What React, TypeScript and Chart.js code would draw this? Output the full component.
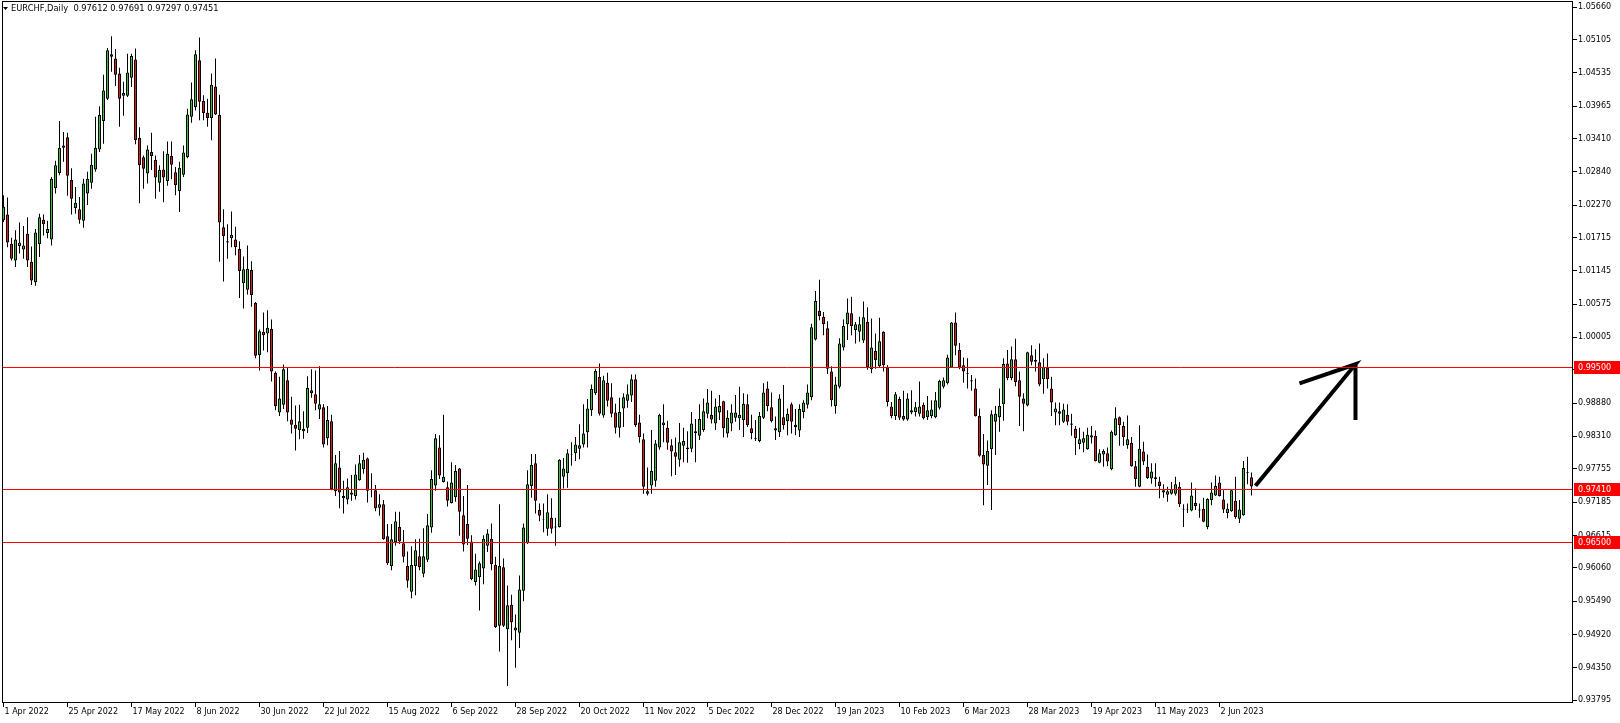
import { useEffect, useRef } from 'react';
import { Chart, registerables } from 'chart.js';

Chart.register(...registerables);

const symbolTitle = 'EURCHF,Daily  0.97612 0.97691 0.97297 0.97451';

const tickDates = [
  '1 Apr 2022', '25 Apr 2022', '17 May 2022', '8 Jun 2022', '30 Jun 2022', '22 Jul 2022',
  '15 Aug 2022', '6 Sep 2022', '28 Sep 2022', '20 Oct 2022', '11 Nov 2022', '5 Dec 2022',
  '28 Dec 2022', '19 Jan 2023', '10 Feb 2023', '6 Mar 2023', '28 Mar 2023', '19 Apr 2023',
  '11 May 2023', '2 Jun 2023',
];
const barsPerDateTick = 16;

const priceTicks = [
  1.0566, 1.05105, 1.04535, 1.03965, 1.0341, 1.0284, 1.0227, 1.01715, 1.01145, 1.00575, 1.00005,
  0.9945, 0.9888, 0.9831, 0.97755, 0.97185, 0.96615, 0.9606, 0.9549, 0.9492, 0.9435, 0.93795,
];

const levelValues = [0.995, 0.9741, 0.965];
const levelLabels = ['0.99500', '0.97410', '0.96500'];

// arrow drawn on the chart: shaft + left head stroke, and vertical head stroke (bar index, price)
const arrowShaftX = [313, 338, 324];
const arrowShaftY = [0.97466, 0.99545, 0.99219];
const arrowHeadX = [338, 338];
const arrowHeadY = [0.99545, 0.98591];

const opens = [
  1.0201, 1.0211, 1.0161, 1.0132, 1.0157, 1.0151, 1.0178, 1.0130, 1.0095, 1.0160,
  1.0202, 1.0179, 1.0168, 1.0256, 1.0282, 1.0325, 1.0343, 1.0270, 1.0222, 1.0220,
  1.0200, 1.0247, 1.0265, 1.0288, 1.0322, 1.0371, 1.0409, 1.0485, 1.0478, 1.0452,
  1.0414, 1.0414, 1.0445, 1.0476, 1.0342, 1.0309, 1.0281, 1.0318, 1.0304, 1.0265,
  1.0288, 1.0268, 1.0311, 1.0283, 1.0251, 1.0279, 1.0309, 1.0378, 1.0395, 1.0475,
  1.0405, 1.0385, 1.0376, 1.0430, 1.0381, 1.0189, 1.0165, 1.0170, 1.0168, 1.0152,
  1.0093, 1.0082, 1.0116, 1.0060, 0.9970, 1.0010, 1.0007, 1.0015, 0.9940, 0.9872,
  0.9885, 0.9927, 0.9860, 0.9851, 0.9842, 0.9840, 0.9846, 0.9910, 0.9903, 0.9877,
  0.9881, 0.9828, 0.9857, 0.9737, 0.9778, 0.9725, 0.9723, 0.9735, 0.9729, 0.9756,
  0.9775, 0.9793, 0.9740, 0.9739, 0.9709, 0.9715, 0.9660, 0.9609, 0.9650, 0.9676,
  0.9648, 0.9609, 0.9565, 0.9609, 0.9626, 0.9596, 0.9620, 0.9675, 0.9747, 0.9812,
  0.9753, 0.9744, 0.9717, 0.9727, 0.9776, 0.9696, 0.9681, 0.9651, 0.9582, 0.9590,
  0.9605, 0.9644, 0.9656, 0.9611, 0.9507, 0.9607, 0.9501, 0.9543, 0.9504, 0.9495,
  0.9567, 0.9648, 0.9746, 0.9785, 0.9705, 0.9689, 0.9673, 0.9692, 0.9677, 0.9676,
  0.9762, 0.9768, 0.9801, 0.9802, 0.9810, 0.9817, 0.9838, 0.9876, 0.9905, 0.9933,
  0.9867, 0.9923, 0.9898, 0.9872, 0.9846, 0.9879, 0.9892, 0.9901, 0.9929, 0.9855,
  0.9826, 0.9733, 0.9747, 0.9755, 0.9812, 0.9850, 0.9846, 0.9816, 0.9804, 0.9791,
  0.9815, 0.9809, 0.9810, 0.9837, 0.9832, 0.9842, 0.9870, 0.9868, 0.9853, 0.9872,
  0.9891, 0.9836, 0.9853, 0.9863, 0.9862, 0.9859, 0.9886, 0.9845, 0.9828, 0.9823,
  0.9863, 0.9913, 0.9881, 0.9845, 0.9838, 0.9864, 0.9857, 0.9886, 0.9851, 0.9841,
  0.9873, 0.9885, 0.9898, 0.9997, 1.0046, 1.0036, 1.0016, 0.9942, 0.9883, 0.9916,
  0.9983, 1.0023, 1.0042, 1.0013, 1.0010, 0.9995, 1.0027, 0.9946, 0.9977, 0.9951,
  1.0010, 0.9949, 0.9882, 0.9866, 0.9895, 0.9866, 0.9860, 0.9876, 0.9873, 0.9870,
  0.9885, 0.9864, 0.9866, 0.9864, 0.9880, 0.9916, 0.9922, 0.9949, 1.0026, 0.9979,
  0.9953, 0.9939, 0.9927, 0.9913, 0.9866, 0.9799, 0.9781, 0.9809, 0.9856, 0.9864,
  0.9886, 0.9956, 0.9931, 0.9963, 0.9927, 0.9896, 0.9884, 0.9970, 0.9962, 0.9958,
  0.9929, 0.9948, 0.9913, 0.9872, 0.9874, 0.9856, 0.9868, 0.9853, 0.9844, 0.9818,
  0.9820, 0.9809, 0.9829, 0.9832, 0.9786, 0.9800, 0.9802, 0.9775, 0.9833, 0.9864,
  0.9849, 0.9816, 0.9820, 0.9780, 0.9745, 0.9805, 0.9779, 0.9759, 0.9761, 0.9754,
  0.9735, 0.9731, 0.9733, 0.9733, 0.9745, 0.9707, 0.9707, 0.9704, 0.9717, 0.9706,
  0.9707, 0.9676, 0.9722, 0.9730, 0.9752, 0.9723, 0.9700, 0.9703, 0.9721, 0.9690,
  0.9696, 0.9770, 0.97612,
];

const highs = [
  1.0244, 1.0240, 1.0171, 1.0184, 1.0197, 1.0191, 1.0206, 1.0156, 1.0186, 1.0212,
  1.0211, 1.0200, 1.0275, 1.0303, 1.0371, 1.0352, 1.0351, 1.0290, 1.0258, 1.0241,
  1.0272, 1.0284, 1.0315, 1.0378, 1.0396, 1.0450, 1.0496, 1.0516, 1.0494, 1.0462,
  1.0438, 1.0486, 1.0486, 1.0495, 1.0360, 1.0312, 1.0329, 1.0351, 1.0312, 1.0295,
  1.0319, 1.0336, 1.0336, 1.0292, 1.0301, 1.0329, 1.0392, 1.0437, 1.0492, 1.0514,
  1.0415, 1.0409, 1.0452, 1.0478, 1.0416, 1.0220, 1.0194, 1.0216, 1.0190, 1.0165,
  1.0139, 1.0158, 1.0131, 1.0061, 1.0014, 1.0043, 1.0047, 1.0031, 0.9942, 0.9933,
  0.9954, 0.9950, 0.9899, 0.9884, 0.9885, 0.9874, 0.9934, 0.9946, 0.9944, 0.9951,
  0.9886, 0.9883, 0.9868, 0.9799, 0.9806, 0.9755, 0.9759, 0.9765, 0.9783, 0.9799,
  0.9803, 0.9795, 0.9768, 0.9748, 0.9732, 0.9722, 0.9681, 0.9681, 0.9702, 0.9702,
  0.9671, 0.9634, 0.9643, 0.9655, 0.9656, 0.9674, 0.9698, 0.9773, 0.9835, 0.9833,
  0.9868, 0.9754, 0.9787, 0.9782, 0.9777, 0.9729, 0.9748, 0.9662, 0.9630, 0.9617,
  0.9662, 0.9672, 0.9682, 0.9625, 0.9715, 0.9622, 0.9576, 0.9560, 0.9526, 0.9593,
  0.9682, 0.9773, 0.9801, 0.9801, 0.9716, 0.9716, 0.9732, 0.9725, 0.9692, 0.9792,
  0.9794, 0.9809, 0.9821, 0.9830, 0.9852, 0.9886, 0.9895, 0.9920, 0.9947, 0.9956,
  0.9935, 0.9940, 0.9922, 0.9887, 0.9897, 0.9905, 0.9920, 0.9937, 0.9937, 0.9868,
  0.9836, 0.9778, 0.9842, 0.9825, 0.9870, 0.9886, 0.9858, 0.9826, 0.9829, 0.9854,
  0.9846, 0.9840, 0.9873, 0.9861, 0.9886, 0.9896, 0.9912, 0.9909, 0.9896, 0.9902,
  0.9892, 0.9876, 0.9886, 0.9902, 0.9916, 0.9905, 0.9903, 0.9868, 0.9859, 0.9873,
  0.9922, 0.9925, 0.9906, 0.9865, 0.9903, 0.9919, 0.9879, 0.9889, 0.9878, 0.9886,
  0.9893, 0.9920, 1.0024, 1.0080, 1.0099, 1.0044, 1.0028, 0.9951, 0.9933, 0.9999,
  1.0031, 1.0067, 1.0070, 1.0027, 1.0036, 1.0062, 1.0052, 1.0033, 1.0007, 1.0034,
  1.0011, 0.9953, 0.9890, 0.9907, 0.9899, 0.9909, 0.9905, 0.9910, 0.9890, 0.9925,
  0.9889, 0.9900, 0.9893, 0.9907, 0.9928, 0.9932, 0.9971, 1.0027, 1.0043, 0.9991,
  0.9966, 0.9965, 0.9936, 0.9930, 0.9879, 0.9835, 0.9824, 0.9876, 0.9883, 0.9913,
  0.9965, 0.9979, 0.9985, 0.9998, 0.9942, 0.9905, 0.9976, 0.9987, 0.9980, 0.9990,
  0.9965, 0.9973, 0.9933, 0.9889, 0.9889, 0.9887, 0.9886, 0.9870, 0.9849, 0.9846,
  0.9839, 0.9846, 0.9849, 0.9841, 0.9809, 0.9809, 0.9812, 0.9841, 0.9881, 0.9865,
  0.9856, 0.9867, 0.9830, 0.9789, 0.9850, 0.9822, 0.9800, 0.9785, 0.9785, 0.9762,
  0.9749, 0.9745, 0.9753, 0.9762, 0.9753, 0.9715, 0.9716, 0.9752, 0.9742, 0.9716,
  0.9726, 0.9725, 0.9752, 0.9764, 0.9762, 0.9739, 0.9716, 0.9741, 0.9762, 0.9722,
  0.9789, 0.9796, 0.97691,
];

const lows = [
  1.0198, 1.0155, 1.0132, 1.0121, 1.0144, 1.0135, 1.0121, 1.0090, 1.0089, 1.0138,
  1.0175, 1.0170, 1.0158, 1.0247, 1.0278, 1.0301, 1.0243, 1.0211, 1.0212, 1.0195,
  1.0188, 1.0227, 1.0255, 1.0284, 1.0318, 1.0332, 1.0407, 1.0455, 1.0431, 1.0361,
  1.0380, 1.0412, 1.0429, 1.0331, 1.0230, 1.0255, 1.0264, 1.0287, 1.0238, 1.0250,
  1.0232, 1.0260, 1.0271, 1.0244, 1.0215, 1.0275, 1.0307, 1.0368, 1.0389, 1.0372,
  1.0372, 1.0361, 1.0338, 1.0381, 1.0130, 1.0096, 1.0135, 1.0155, 1.0141, 1.0068,
  1.0050, 1.0074, 1.0053, 0.9965, 0.9944, 0.9978, 0.9975, 0.9925, 0.9876, 0.9866,
  0.9878, 0.9857, 0.9836, 0.9807, 0.9826, 0.9827, 0.9837, 0.9897, 0.9876, 0.9861,
  0.9812, 0.9816, 0.9739, 0.9729, 0.9708, 0.9699, 0.9715, 0.9721, 0.9723, 0.9755,
  0.9767, 0.9718, 0.9727, 0.9703, 0.9695, 0.9654, 0.9611, 0.9602, 0.9644, 0.9647,
  0.9615, 0.9572, 0.9554, 0.9559, 0.9602, 0.9590, 0.9616, 0.9666, 0.9738, 0.9758,
  0.9752, 0.9711, 0.9716, 0.9719, 0.9661, 0.9634, 0.9645, 0.9585, 0.9576, 0.9533,
  0.9578, 0.9633, 0.9602, 0.9503, 0.9463, 0.9505, 0.9404, 0.9482, 0.9435, 0.9469,
  0.9549, 0.9647, 0.9726, 0.9699, 0.9686, 0.9667, 0.9661, 0.9665, 0.9644, 0.9675,
  0.9742, 0.9743, 0.9781, 0.9789, 0.9792, 0.9812, 0.9812, 0.9866, 0.9902, 0.9867,
  0.9863, 0.9882, 0.9864, 0.9836, 0.9829, 0.9847, 0.9880, 0.9890, 0.9847, 0.9820,
  0.9733, 0.9730, 0.9733, 0.9745, 0.9808, 0.9821, 0.9808, 0.9763, 0.9765, 0.9779,
  0.9787, 0.9786, 0.9804, 0.9787, 0.9825, 0.9839, 0.9862, 0.9853, 0.9842, 0.9859,
  0.9829, 0.9829, 0.9840, 0.9856, 0.9842, 0.9830, 0.9847, 0.9826, 0.9823, 0.9821,
  0.9861, 0.9874, 0.9855, 0.9825, 0.9830, 0.9843, 0.9833, 0.9836, 0.9833, 0.9830,
  0.9862, 0.9879, 0.9893, 0.9995, 1.0030, 1.0004, 0.9938, 0.9882, 0.9870, 0.9913,
  0.9978, 0.9996, 1.0004, 0.9990, 0.9993, 0.9991, 0.9945, 0.9939, 0.9947, 0.9949,
  0.9942, 0.9882, 0.9862, 0.9859, 0.9859, 0.9858, 0.9858, 0.9869, 0.9865, 0.9865,
  0.9860, 0.9859, 0.9862, 0.9862, 0.9877, 0.9913, 0.9920, 0.9948, 0.9970, 0.9946,
  0.9923, 0.9913, 0.9909, 0.9865, 0.9796, 0.9713, 0.9748, 0.9705, 0.9799, 0.9839,
  0.9858, 0.9927, 0.9927, 0.9917, 0.9849, 0.9840, 0.9882, 0.9953, 0.9942, 0.9917,
  0.9904, 0.9913, 0.9866, 0.9850, 0.9850, 0.9854, 0.9850, 0.9832, 0.9799, 0.9809,
  0.9804, 0.9808, 0.9819, 0.9788, 0.9785, 0.9779, 0.9780, 0.9773, 0.9832, 0.9815,
  0.9815, 0.9810, 0.9779, 0.9745, 0.9744, 0.9782, 0.9758, 0.9750, 0.9745, 0.9725,
  0.9726, 0.9719, 0.9731, 0.9730, 0.9710, 0.9676, 0.9700, 0.9703, 0.9705, 0.9692,
  0.9684, 0.9672, 0.9713, 0.9729, 0.9728, 0.9700, 0.9691, 0.9702, 0.9690, 0.9683,
  0.9695, 0.9749, 0.97297,
];

const closes = [
  1.0224, 1.0163, 1.0135, 1.0168, 1.0163, 1.0158, 1.0132, 1.0098, 1.0180, 1.0206,
  1.0194, 1.0186, 1.0272, 1.0295, 1.0325, 1.0329, 1.0277, 1.0238, 1.0231, 1.0202,
  1.0264, 1.0272, 1.0296, 1.0325, 1.0381, 1.0423, 1.0492, 1.0481, 1.0450, 1.0409,
  1.0419, 1.0454, 1.0482, 1.0338, 1.0295, 1.0289, 1.0322, 1.0311, 1.0274, 1.0287,
  1.0274, 1.0315, 1.0296, 1.0261, 1.0291, 1.0317, 1.0382, 1.0408, 1.0485, 1.0404,
  1.0384, 1.0376, 1.0433, 1.0382, 1.0197, 1.0174, 1.0163, 1.0176, 1.0155, 1.0114,
  1.0117, 1.0118, 1.0073, 0.9969, 1.0011, 1.0004, 1.0017, 0.9942, 0.9883, 0.9896,
  0.9946, 0.9872, 0.9851, 0.9844, 0.9857, 0.9844, 0.9914, 0.9905, 0.9887, 0.9886,
  0.9817, 0.9859, 0.9741, 0.9785, 0.9735, 0.9729, 0.9744, 0.9731, 0.9766, 0.9785,
  0.9791, 0.9738, 0.9739, 0.9708, 0.9715, 0.9655, 0.9614, 0.9655, 0.9686, 0.9651,
  0.9625, 0.9584, 0.9611, 0.9636, 0.9607, 0.9626, 0.9679, 0.9758, 0.9828, 0.9764,
  0.9762, 0.9721, 0.9752, 0.9772, 0.9702, 0.9646, 0.9656, 0.9587, 0.9603, 0.9614,
  0.9656, 0.9665, 0.9612, 0.9505, 0.9609, 0.9507, 0.9542, 0.9513, 0.9499, 0.9569,
  0.9675, 0.9749, 0.9782, 0.9721, 0.9695, 0.9688, 0.9701, 0.9673, 0.9675, 0.9791,
  0.9776, 0.9802, 0.9800, 0.9817, 0.9816, 0.9836, 0.9879, 0.9912, 0.9943, 0.9870,
  0.9927, 0.9892, 0.9870, 0.9846, 0.9873, 0.9898, 0.9903, 0.9929, 0.9850, 0.9830,
  0.9745, 0.9737, 0.9772, 0.9819, 0.9868, 0.9855, 0.9820, 0.9805, 0.9796, 0.9821,
  0.9823, 0.9812, 0.9853, 0.9840, 0.9861, 0.9874, 0.9889, 0.9860, 0.9882, 0.9883,
  0.9845, 0.9863, 0.9872, 0.9872, 0.9868, 0.9887, 0.9850, 0.9837, 0.9826, 0.9866,
  0.9906, 0.9883, 0.9857, 0.9841, 0.9896, 0.9850, 0.9870, 0.9856, 0.9847, 0.9878,
  0.9889, 0.9906, 1.0018, 1.0063, 1.0037, 1.0023, 0.9947, 0.9893, 0.9920, 0.9990,
  1.0020, 1.0043, 1.0020, 1.0023, 1.0023, 1.0035, 0.9950, 0.9983, 0.9962, 0.9994,
  0.9953, 0.9890, 0.9866, 0.9903, 0.9863, 0.9860, 0.9896, 0.9872, 0.9881, 0.9882,
  0.9862, 0.9876, 0.9877, 0.9893, 0.9926, 0.9927, 0.9966, 1.0026, 0.9986, 0.9950,
  0.9942, 0.9938, 0.9925, 0.9866, 0.9798, 0.9783, 0.9806, 0.9869, 0.9870, 0.9883,
  0.9955, 0.9931, 0.9963, 0.9924, 0.9899, 0.9887, 0.9975, 0.9959, 0.9959, 0.9920,
  0.9950, 0.9929, 0.9889, 0.9879, 0.9870, 0.9877, 0.9856, 0.9851, 0.9828, 0.9826,
  0.9828, 0.9834, 0.9833, 0.9789, 0.9802, 0.9806, 0.9788, 0.9839, 0.9862, 0.9850,
  0.9830, 0.9826, 0.9780, 0.9758, 0.9810, 0.9788, 0.9760, 0.9771, 0.9758, 0.9746,
  0.9739, 0.9737, 0.9741, 0.9749, 0.9715, 0.9706, 0.9706, 0.9730, 0.9712, 0.9704,
  0.9685, 0.9724, 0.9735, 0.9746, 0.9729, 0.9706, 0.9707, 0.9739, 0.9693, 0.9706,
  0.9777, 0.9769, 0.97451,
];

const FONT_FAMILY = '"DejaVu Sans", Tahoma, sans-serif';
const FONT_SIZE = 8;
const TITLE_FONT_SIZE = 8.3;
const BULL = '#3cbf3c';
const BEAR = '#dc1e1e';
const W = 1620;
const H = 723;

// visible range on the axes
const X_MIN = -0.375;
const X_MAX = 392.375;
const Y_MIN = 0.93747;
const Y_MAX = 1.05763;

const overlayPlugin = {
  id: 'mtOverlay',
  afterDatasetsDraw(chart: any) {
    const { ctx, chartArea: a } = chart;
    const y = chart.scales.y;
    ctx.save();
    ctx.strokeStyle = '#ff0000';
    ctx.lineWidth = 1;
    levelValues.forEach((v) => {
      const py = Math.round(y.getPixelForValue(v)) + 0.5;
      ctx.beginPath();
      ctx.moveTo(a.left, py);
      ctx.lineTo(a.right, py);
      ctx.stroke();
    });
    ctx.restore();
  },
  afterDraw(chart: any) {
    const { ctx, chartArea: a } = chart;
    const y = chart.scales.y;
    ctx.save();
    // frame
    ctx.strokeStyle = '#000';
    ctx.lineWidth = 1;
    ctx.strokeRect(a.left + 0.5, a.top + 0.5, a.right - a.left - 1, a.bottom - a.top - 1);
    // level price boxes
    ctx.font = `${FONT_SIZE}px ${FONT_FAMILY}`;
    ctx.textBaseline = 'middle';
    ctx.textAlign = 'left';
    levelValues.forEach((v, i) => {
      const py = Math.round(y.getPixelForValue(v));
      ctx.fillStyle = '#ff0000';
      ctx.fillRect(a.right + 1, py - 6, chart.width - a.right - 1, 13);
      ctx.fillStyle = '#ffffff';
      ctx.fillText(levelLabels[i], a.right + 5, py + 0.5);
    });
    // title with small triangle
    ctx.fillStyle = '#000';
    ctx.beginPath();
    ctx.moveTo(a.left + 1, a.top + 6);
    ctx.lineTo(a.left + 6, a.top + 6);
    ctx.lineTo(a.left + 3.5, a.top + 9);
    ctx.closePath();
    ctx.fill();
    ctx.font = `${TITLE_FONT_SIZE}px ${FONT_FAMILY}`;
    ctx.fillText(symbolTitle, a.left + 9, a.top + 8);
    ctx.restore();
  },
};

export default function App() {
  const ref = useRef<HTMLCanvasElement | null>(null);

  useEffect(() => {
    document.body.style.margin = '0';
    const canvas = ref.current;
    if (!canvas) return;

    const wicks = lows.map((l, i) => ({ x: i, y: [l, highs[i]] }));
    const bodies = opens.map((o, i) => ({ x: i, y: [o, closes[i]] }));
    const bodyColors = opens.map((o, i) => (closes[i] >= o ? BULL : BEAR));
    const shaft = arrowShaftX.map((x, i) => ({ x, y: arrowShaftY[i] }));
    const head = arrowHeadX.map((x, i) => ({ x, y: arrowHeadY[i] }));

    const font = { family: FONT_FAMILY, size: FONT_SIZE };

    const chart = new Chart(canvas, {
      type: 'bar',
      data: {
        datasets: [
          {
            type: 'line',
            data: shaft as any,
            borderColor: '#000',
            borderWidth: 4,
            pointRadius: 0,
            borderJoinStyle: 'miter',
            order: 0,
          } as any,
          {
            type: 'line',
            data: head as any,
            borderColor: '#000',
            borderWidth: 4,
            pointRadius: 0,
            order: 0,
          } as any,
          {
            type: 'bar',
            data: bodies as any,
            backgroundColor: bodyColors,
            borderColor: '#000',
            borderWidth: 1,
            borderSkipped: false,
            grouped: false,
            categoryPercentage: 1,
            barPercentage: 1,
            maxBarThickness: 3,
            inflateAmount: 0,
            order: 1,
          } as any,
          {
            type: 'bar',
            data: wicks as any,
            backgroundColor: '#000',
            borderWidth: 0,
            grouped: false,
            categoryPercentage: 1,
            barPercentage: 1,
            maxBarThickness: 1,
            inflateAmount: 0,
            order: 2,
          } as any,
        ],
      },
      options: {
        responsive: false,
        animation: false,
        events: [],
        layout: { autoPadding: false, padding: { left: 2, top: 1, right: 0, bottom: 0 } } as any,
        plugins: { legend: { display: false }, tooltip: { enabled: false }, title: { display: false } },
        scales: {
          x: {
            type: 'linear',
            position: 'bottom',
            min: X_MIN,
            max: X_MAX,
            bounds: 'data',
            offset: false,
            afterBuildTicks: (s: any) => {
              s.ticks = tickDates.map((_, k) => ({ value: k * barsPerDateTick }));
            },
            afterFit: (s: any) => {
              s.height = 20;
              s.paddingLeft = 0;
              s.paddingRight = 0;
            },
            grid: {
              display: true,
              drawOnChartArea: false,
              drawTicks: true,
              tickLength: 4,
              color: '#000',
              offset: false,
            },
            border: { display: false },
            ticks: {
              autoSkip: false,
              maxRotation: 0,
              minRotation: 0,
              align: 'start',
              labelOffset: 1,
              padding: 0,
              color: '#000',
              font,
              callback: (_v: any, idx: number) => tickDates[idx],
            },
          } as any,
          y: {
            type: 'linear',
            position: 'right',
            min: Y_MIN,
            max: Y_MAX,
            bounds: 'data',
            beginAtZero: false,
            afterBuildTicks: (s: any) => {
              s.ticks = priceTicks.map((v) => ({ value: v }));
            },
            afterFit: (s: any) => {
              s.width = 47;
              s.paddingTop = 0;
              s.paddingBottom = 0;
            },
            grid: {
              display: true,
              drawOnChartArea: false,
              drawTicks: true,
              tickLength: 4,
              color: '#000',
            },
            border: { display: false },
            ticks: {
              autoSkip: false,
              padding: 1,
              color: '#000',
              font,
              callback: (v: any) => Number(v).toFixed(5),
            },
          } as any,
        },
      },
      plugins: [overlayPlugin],
    });

    return () => chart.destroy();
  }, []);

  return (
    <div style={{ width: W, height: H, background: '#fff' }}>
      <canvas ref={ref} width={W} height={H} style={{ display: 'block' }} />
    </div>
  );
}
